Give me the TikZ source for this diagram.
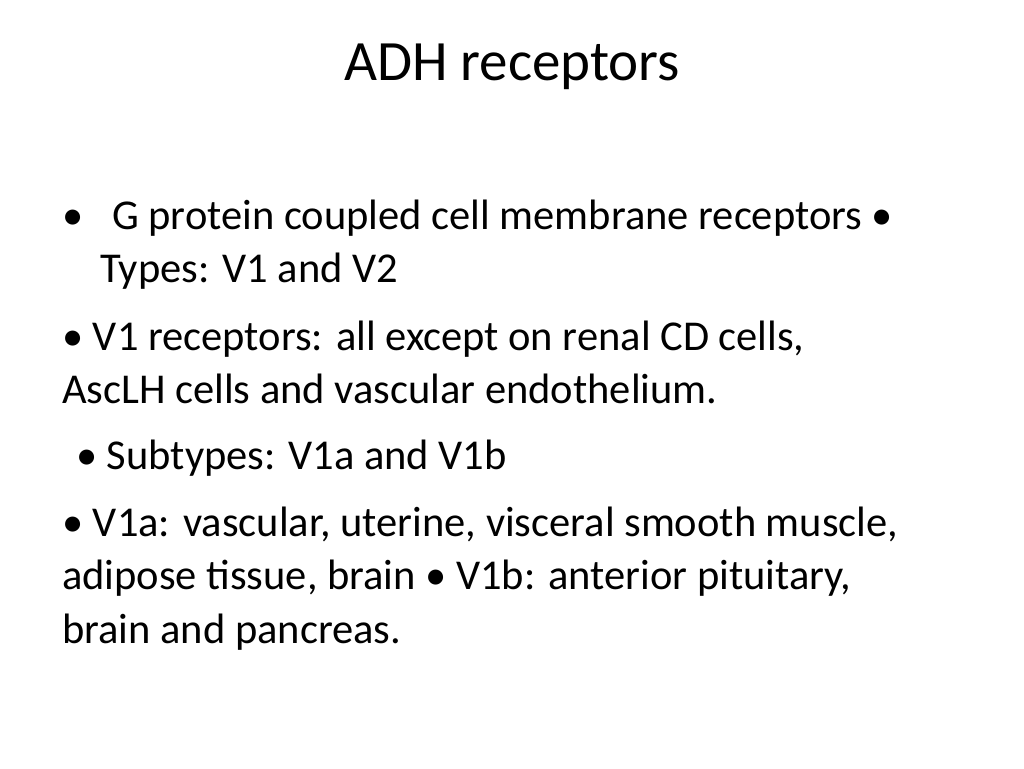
\documentclass[tikz,border=0pt]{standalone}
\usepackage{fontspec}
\setmainfont{Carlito}
\usepackage{tikz}
\usetikzlibrary{positioning}

\begin{document}
\begin{tikzpicture}[
    x=1pt, y=-1pt,
    % Define styles
    titletext/.style={anchor=base, inner sep=0pt, font=\fontsize{57}{60}\selectfont},
    bodytext/.style={anchor=base west, inner sep=0pt, font=\fontsize{42.5}{48}\selectfont}
]
\useasboundingbox (0,0) rectangle (1024,768);

% Title
\node[titletext] (title) at (512, 81) {ADH receptors};

% Bullet lines
\node[bodytext] (b1) at (62, 229) {\textbullet};
\node[bodytext] (l1) at (112, 229) {G protein coupled cell membrane receptors \textbullet};
\node[bodytext] (l2) at (100, 282) {Types: V1 and V2};
\node[bodytext] (l3) at (62, 350) {\textbullet\ V1 receptors: all except on renal CD cells,};
\node[bodytext] (l4) at (62, 403) {AscLH cells and vascular endothelium.};
\node[bodytext] (l5) at (76, 469) {\textbullet\ Subtypes: V1a and V1b};
\node[bodytext] (l6) at (62, 536) {\textbullet\ V1a: vascular, uterine, visceral smooth muscle,};
\node[bodytext] (l7) at (62, 589) {adipose tissue, brain \textbullet\ V1b: anterior pituitary,};
\node[bodytext] (l8) at (62, 643) {brain and pancreas.};

\end{tikzpicture}
\end{document}
